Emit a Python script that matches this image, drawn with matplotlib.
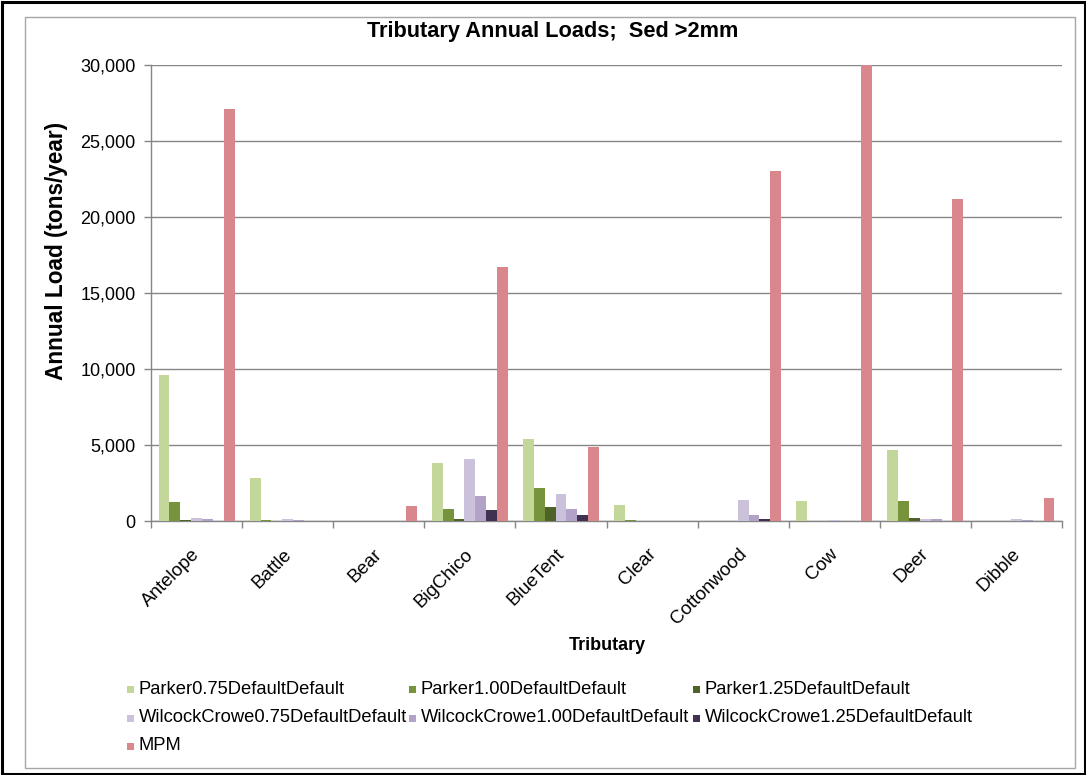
import matplotlib
matplotlib.use("Agg")
import matplotlib.pyplot as plt
from matplotlib.patches import Rectangle
import matplotlib.transforms as mtransforms
import numpy as np

plt.rcParams['font.family'] = ['Liberation Sans', 'DejaVu Sans']

categories = ["Antelope", "Battle", "Bear", "BigChico", "BlueTent", "Clear",
              "Cottonwood", "Cow", "Deer", "Dibble"]
series_names = ["Parker0.75DefaultDefault", "Parker1.00DefaultDefault",
                "Parker1.25DefaultDefault", "WilcockCrowe0.75DefaultDefault",
                "WilcockCrowe1.00DefaultDefault", "WilcockCrowe1.25DefaultDefault",
                "MPM"]
parker_075 = [9600, 2850, 0, 3800, 5400, 1050, 30, 1300, 4700, 30]
parker_100 = [1250, 50, 0, 800, 2200, 50, 0, 0, 1300, 20]
parker_125 = [60, 30, 0, 100, 950, 30, 0, 30, 200, 10]
wilcock_075 = [200, 100, 0, 4100, 1800, 20, 1400, 40, 150, 150]
wilcock_100 = [100, 50, 0, 1650, 800, 10, 400, 20, 100, 80]
wilcock_125 = [20, 10, 0, 750, 380, 0, 100, 0, 30, 10]
mpm = [27100, 0, 1000, 16700, 4900, 0, 23000, 30100, 21200, 1500]
series_values = [parker_075, parker_100, parker_125, wilcock_075,
                 wilcock_100, wilcock_125, mpm]
colors = ["#C4D79B", "#77933C", "#4F6228", "#CCC1DA", "#B3A2C7", "#403152", "#D9878C"]
yticks = [0, 5000, 10000, 15000, 20000, 25000, 30000]

W, H = 1086, 775
fig = plt.figure(figsize=(W / 100, H / 100), dpi=100)
fig.patch.set_facecolor("white")

# frames
fig.patches.append(Rectangle((1.5 / W, 1.5 / H), (W - 3) / W, (H - 3) / H,
                             transform=fig.transFigure, fill=False,
                             edgecolor="black", linewidth=2.2))
fig.patches.append(Rectangle((25 / W, 1 - 768 / H), (1075 - 25) / W, (768 - 17) / H,
                             transform=fig.transFigure, fill=False,
                             edgecolor="#A6A6A6", linewidth=1.0))

ax_l, ax_r, ax_t, ax_b = 151, 1062, 65, 521
ax = fig.add_axes([ax_l / W, 1 - ax_b / H, (ax_r - ax_l) / W, (ax_b - ax_t) / H])

n = len(series_names)
w = 1 / 8.4
x = np.arange(len(categories)) + 0.5
for j, (vals, c) in enumerate(zip(series_values, colors)):
    ax.bar(x + (j - (n - 1) / 2) * w, vals, width=w, color=c, edgecolor="none",
           zorder=3)

ax.set_xlim(0, len(categories))
ax.set_ylim(0, 30000)
ax.set_yticks(yticks)
ax.set_yticklabels([f"{v:,}" for v in yticks], fontsize=13)
ax.yaxis.grid(True, color="#868686", linewidth=1.0, zorder=0)
ax.set_axisbelow(True)
for s in ["top", "right"]:
    ax.spines[s].set_visible(False)
for s in ["left", "bottom"]:
    ax.spines[s].set_color("#868686")
    ax.spines[s].set_linewidth(1.0)
ax.tick_params(axis="y", direction="out", length=5, width=1, color="#868686", pad=6)

ax.set_xticks(x)
ax.set_xticklabels(categories, rotation=45, ha="right", va="center",
                   rotation_mode="anchor", fontsize=13.5)
ax.set_xticks(np.arange(len(categories) + 1), minor=True)
ax.tick_params(axis="x", which="major", length=0, pad=22)
ax.tick_params(axis="x", which="minor", direction="out", length=5, width=1,
               color="#868686")
offset = mtransforms.ScaledTranslation(1 / 100, 0, fig.dpi_scale_trans)
for lbl in ax.get_xticklabels():
    lbl.set_transform(lbl.get_transform() + offset)

fig.text(553 / W, 1 - 32 / H, "Tributary Annual Loads;  Sed >2mm", ha="center",
         va="center", fontsize=15.7, fontweight="bold")
fig.text(57 / W, 1 - 251 / H, "Annual Load (tons/year)", rotation=90, ha="center",
         va="center", fontsize=16.3, fontweight="bold")
fig.text(607 / W, 1 - 645 / H, "Tributary", ha="center", va="center",
         fontsize=13, fontweight="bold")

# legend (row-major, 3 columns)
col_x = [130, 412, 696]
row_y = [689, 718, 746]
for k, (name, c) in enumerate(zip(series_names, colors)):
    r, cc = divmod(k, 3)
    px, py = col_x[cc], row_y[r]
    fig.patches.append(Rectangle(((px - 3.5) / W, 1 - (py + 3.5) / H), 7 / W, 7 / H,
                                 transform=fig.transFigure, facecolor=c,
                                 edgecolor="none"))
    fig.text((px + 9) / W, 1 - py / H, name, ha="left", va="center", fontsize=13.2)

fig.savefig("out.png", dpi=100)
